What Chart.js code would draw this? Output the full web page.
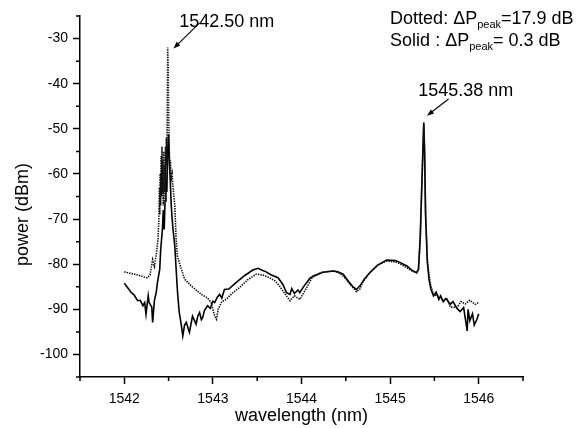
<!DOCTYPE html>
<html>
<head>
<meta charset="utf-8">
<script src="https://cdn.jsdelivr.net/npm/chart.js@4/dist/chart.umd.min.js"></script>
<style>
  html, body { margin: 0; padding: 0; background: #fff; }
  #wrap { width: 581px; height: 428px; }
</style>
</head>
<body>
<div id="wrap"><canvas id="spec" width="581" height="428"></canvas></div>
<script>
// ── Spectra (wavelength in nm, power in dBm) ───────────────────────────────

const dottedWl = [1542.00,1542.06,1542.11,1542.17,1542.23,1542.26,1542.29,1542.32,1542.34,1542.36,
  1542.38,1542.39,1542.395,1542.40,1542.405,1542.41,1542.415,1542.42,1542.425,1542.43,
  1542.435,1542.44,1542.445,1542.45,1542.455,1542.46,1542.465,1542.47,1542.475,1542.48,
  1542.485,1542.49,1542.495,1542.50,1542.505,1542.51,1542.515,1542.52,1542.53,1542.54,
  1542.55,1542.57,1542.585,1542.60,1542.62,1542.68,
  1542.755,1542.87,1542.94,1542.98,1543.02,1543.04,1543.06,1543.10,1543.15,1543.22,
  1543.30,1543.39,1543.49,1543.56,1543.64,1543.70,1543.75,1543.81,1543.87,1543.92,
  1543.98,1544.05,1544.13,1544.23,1544.36,1544.41,1544.47,1544.55,1544.62,1544.66,
  1544.69,1544.77,1544.86,1544.96,1545.06,1545.11,1545.19,1545.25,1545.30,1545.32,
  1545.34,1545.36,1545.38,1545.39,1545.40,1545.42,1545.44,1545.46,1545.49,1545.55,
  1545.60,1545.64,1545.68,1545.755,1545.80,1545.85,1545.90,1545.96,1546.00];
const dottedPw = [-81.7,-82.0,-82.2,-82.5,-82.9,-83.0,-82.4,-79.0,-80.5,-78.0,
  -74.5,-70,-63,-69,-60,-67,-56,-65,-54,-64,
  -57,-67,-55,-64,-58,-66,-54,-62,-52,-58,
  -48,-32,-36,-45,-52,-56,-60,-57,-61,-60,
  -63,-67,-74.5,-78.2,-79.6,-83.3,
  -84.8,-86.7,-87.5,-88.5,-91.5,-92.2,-90.0,-88.3,-87.8,-86.4,
  -85.2,-83.5,-82.2,-82.4,-83.0,-83.7,-84.8,-86.5,-88.1,-87.0,
  -87.8,-85.5,-82.6,-81.8,-81.5,-81.8,-82.6,-84.5,-86.1,-85.5,
  -84.0,-81.9,-80.2,-79.3,-79.5,-79.9,-80.8,-81.5,-81.9,-81.0,
  -75,-62,-49,-55,-67.8,-78.9,-82.5,-84.8,-86.7,-87.2,
  -88.1,-87.5,-89.5,-89.6,-88.3,-88.8,-88.0,-88.9,-88.5];

const solidWl = [1542.00,1542.03,1542.08,1542.11,1542.15,1542.18,1542.21,1542.23,1542.245,1542.27,
  1542.28,1542.31,1542.32,1542.34,1542.36,1542.375,1542.40,1542.41,1542.43,1542.44,
  1542.45,1542.46,1542.47,1542.48,1542.49,1542.50,1542.51,1542.52,1542.53,1542.54,
  1542.55,1542.57,1542.585,1542.60,1542.62,1542.64,1542.66,1542.68,1542.70,1542.72,
  1542.735,1542.755,1542.77,1542.79,1542.81,1542.83,1542.85,1542.87,1542.885,1542.905,
  1542.94,1542.97,1543.00,1543.02,1543.05,1543.075,1543.10,1543.13,1543.18,1543.26,
  1543.36,1543.45,1543.51,1543.55,1543.60,1543.66,1543.735,1543.79,1543.83,1543.87,
  1543.89,1543.92,1543.96,1543.98,1544.03,1544.10,1544.17,1544.24,1544.36,1544.41,
  1544.47,1544.53,1544.58,1544.62,1544.66,1544.71,1544.77,1544.86,1544.96,1545.06,
  1545.11,1545.19,1545.25,1545.30,1545.32,1545.34,1545.36,1545.38,1545.39,1545.40,
  1545.42,1545.44,1545.46,1545.49,1545.52,1545.55,1545.57,1545.60,1545.63,1545.68,
  1545.71,1545.755,1545.79,1545.83,1545.87,1545.88,1545.90,1545.93,1545.95,1545.98,
  1546.00];
const solidPw = [-84.2,-85.0,-86.3,-86.8,-88.1,-88.0,-89.2,-88.5,-91.1,-87.0,
  -88.5,-89.5,-92.9,-88.0,-86.3,-84.0,-81.1,-77,-72.3,-68,
  -72.3,-66,-61.2,-64,-55,-51.2,-58,-62,-67,-70,
  -72.3,-76,-81.1,-86,-90.7,-93,-95.9,-93.5,-92.9,-94.2,
  -95.1,-93,-91.5,-92.4,-93.3,-91.5,-90.7,-92.3,-91.8,-90.2,
  -89.2,-89.8,-88.2,-88.5,-87.3,-86.7,-87.5,-85.6,-85.5,-84.1,
  -82.5,-81.3,-80.9,-81.3,-81.7,-82.4,-83.0,-84.5,-86.3,-86.7,
  -85.4,-86.5,-85.7,-86.3,-84.8,-83.0,-82.4,-81.8,-81.5,-81.7,
  -82.2,-83.8,-85.0,-85.6,-84.8,-83.3,-81.9,-80.2,-79.1,-79.2,
  -79.6,-80.4,-81.4,-81.9,-81.2,-74,-61,-48.6,-56,-69,
  -79.5,-83.5,-85.5,-87.0,-86.2,-87.8,-87.0,-88.3,-87.6,-88.9,
  -88.3,-89.8,-90.5,-89.6,-94.8,-90.0,-92.5,-91.0,-93.5,-92.2,
  -91.0];

// ── Axes ticks ───────────────────────────────────────────────────────────

const xMajorTicks = [1542, 1543, 1544, 1545, 1546];
const xMinorTicks = [1541.5, 1542.5, 1543.5, 1544.5, 1545.5, 1546.5];
const yMajorTicks = [-100, -90, -80, -70, -60, -50, -40, -30];
const yMinorTicks = [-105, -95, -85, -75, -65, -55, -45, -35, -25];

const xTitle = 'wavelength (nm)';
const yTitle = 'power (dBm)';

// peak labels, anchored in data units
const peakNotes = [
  { text: '1542.50 nm', at: [1542.62, -27.5],  from: [1542.85, -26.5], to: [1542.555, -32.2] },
  { text: '1545.38 nm', at: [1545.317, -42.8], from: [1545.66, -43.4], to: [1545.416, -47.1] }
];
const deltaNotes = [
  { pre: 'Dotted: \u0394P', sub: 'peak', post: '=17.9 dB',  at: [1545.0, -26.8] },
  { pre: 'Solid : \u0394P', sub: 'peak', post: '= 0.3 dB',  at: [1545.0, -31.7] }
];

const FONT = '"Liberation Sans", Arial, sans-serif';

function arrow(ctx, x0, y0, x1, y1) {
  const ang = Math.atan2(y1 - y0, x1 - x0);
  const len = 7, hw = 2.6;
  ctx.beginPath();
  ctx.moveTo(x0, y0);
  ctx.lineTo(x1 - Math.cos(ang) * len * 0.8, y1 - Math.sin(ang) * len * 0.8);
  ctx.stroke();
  ctx.beginPath();
  ctx.moveTo(x1, y1);
  ctx.lineTo(x1 - Math.cos(ang) * len - Math.sin(ang) * hw, y1 - Math.sin(ang) * len + Math.cos(ang) * hw);
  ctx.lineTo(x1 - Math.cos(ang) * len + Math.sin(ang) * hw, y1 - Math.sin(ang) * len - Math.cos(ang) * hw);
  ctx.closePath();
  ctx.fill();
}

const extras = {
  id: 'extras',
  afterDraw(chart) {
    const { ctx, chartArea: a, scales: { x, y } } = chart;
    ctx.save();
    ctx.strokeStyle = '#000';
    ctx.fillStyle = '#000';

    // minor ticks
    ctx.lineWidth = 1.5;
    ctx.beginPath();
    xMinorTicks.forEach(v => { const px = x.getPixelForValue(v); ctx.moveTo(px, a.bottom); ctx.lineTo(px, a.bottom + 4); });
    yMinorTicks.forEach(v => { const py = y.getPixelForValue(v); ctx.moveTo(a.left, py); ctx.lineTo(a.left - 4, py); });
    ctx.stroke();

    // axis titles
    ctx.font = '18px ' + FONT;
    ctx.textAlign = 'center';
    ctx.textBaseline = 'middle';
    ctx.fillText(xTitle, (a.left + a.right) / 2, a.bottom + 39);
    ctx.save();
    ctx.translate(a.left - 57, (a.top + a.bottom) / 2 + 18);
    ctx.rotate(-Math.PI / 2);
    ctx.fillText(yTitle, 0, 0);
    ctx.restore();

    // peak labels + arrows
    ctx.textAlign = 'left';
    ctx.textBaseline = 'alphabetic';
    ctx.font = '18px ' + FONT;
    ctx.lineWidth = 1.1;
    peakNotes.forEach(n => {
      ctx.fillText(n.text, x.getPixelForValue(n.at[0]), y.getPixelForValue(n.at[1]));
      arrow(ctx, x.getPixelForValue(n.from[0]), y.getPixelForValue(n.from[1]),
                 x.getPixelForValue(n.to[0]),   y.getPixelForValue(n.to[1]));
    });

    // ΔP notes with subscript
    deltaNotes.forEach(n => {
      let px = x.getPixelForValue(n.at[0]);
      const py = y.getPixelForValue(n.at[1]);
      ctx.font = '18px ' + FONT;
      ctx.fillText(n.pre, px, py);
      px += ctx.measureText(n.pre).width;
      ctx.font = '11px ' + FONT;
      ctx.fillText(n.sub, px, py + 4);
      px += ctx.measureText(n.sub).width;
      ctx.font = '18px ' + FONT;
      ctx.fillText(n.post, px, py);
    });
    ctx.restore();
  }
};

const toPts = (xs, ys) => xs.map((v, i) => ({ x: v, y: ys[i] }));

const tickFont = { family: FONT, size: 14 };

new Chart(document.getElementById('spec'), {
  type: 'line',
  plugins: [extras],
  data: {
    datasets: [
      { label: 'dotted', data: toPts(dottedWl, dottedPw),
        borderColor: '#111', borderWidth: 1.6, borderDash: [1.4, 1.1],
        pointRadius: 0, tension: 0, fill: false },
      { label: 'solid', data: toPts(solidWl, solidPw),
        borderColor: '#000', borderWidth: 1.6,
        pointRadius: 0, tension: 0, fill: false }
    ]
  },
  options: {
    responsive: false, animation: false,
    layout: { padding: { top: 16, right: 58, left: 0, bottom: 0 } },
    plugins: { legend: { display: false }, tooltip: { enabled: false } },
    scales: {
      x: { type: 'linear', min: 1541.5, max: 1546.5,
           afterBuildTicks: s => { s.ticks = xMajorTicks.map(v => ({ value: v })); },
           afterFit: s => { s.height = 51; },
           ticks: { color: '#000', font: tickFont, padding: 7, maxRotation: 0, callback: v => String(v) },
           grid: { drawOnChartArea: false, drawTicks: true, tickLength: 7, tickWidth: 1.5, tickColor: '#000' },
           border: { display: true, color: '#000', width: 1.5 } },
      y: { type: 'linear', min: -105, max: -25,
           afterBuildTicks: s => { s.ticks = yMajorTicks.map(v => ({ value: v })); },
           afterFit: s => { s.width = 80; },
           ticks: { color: '#000', font: tickFont, padding: 5, callback: v => String(v) },
           grid: { drawOnChartArea: false, drawTicks: true, tickLength: 7, tickWidth: 1.5, tickColor: '#000' },
           border: { display: true, color: '#000', width: 1.5 } }
    }
  }
});
</script>
</body>
</html>
